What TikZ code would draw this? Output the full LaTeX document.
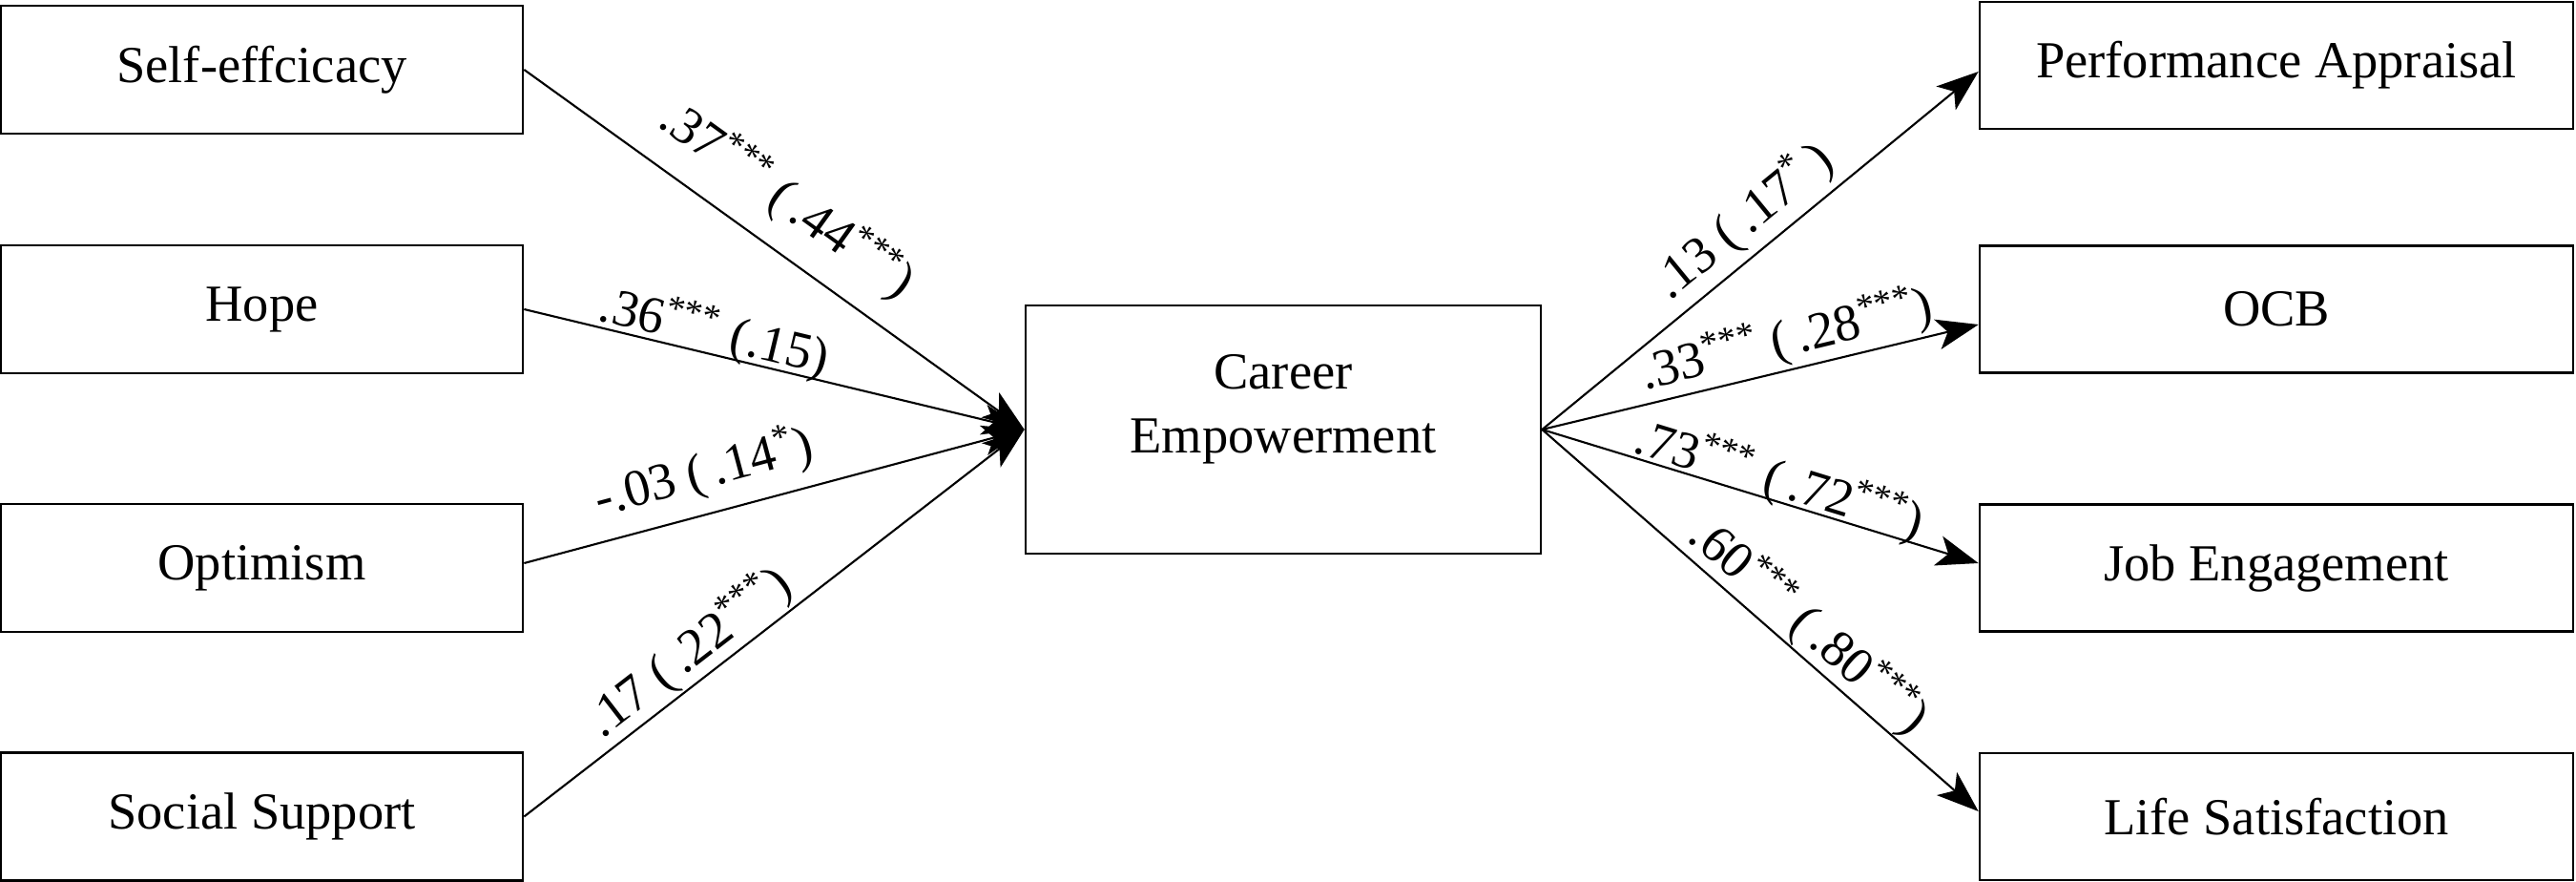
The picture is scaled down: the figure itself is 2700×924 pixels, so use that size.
\documentclass[tikz,border=0pt]{standalone}
\usepackage{fontspec}
\setmainfont{Liberation Serif}
\usetikzlibrary{arrows.meta}
\newcommand{\st}[1]{\textsuperscript{#1}}
\begin{document}
\begin{tikzpicture}[x=0.1mm,y=-0.1mm,
  box/.style={draw, line width=0.75pt, rectangle, inner sep=0pt, font=\fontsize{15.5}{19}\selectfont, align=center},
  lbox/.style={box, minimum width=54.7mm, minimum height=13.4mm},
  rbox/.style={box, minimum width=62.2mm, minimum height=13.3mm},
  link/.style={line width=0.6pt, -{Stealth[length=4.4mm,width=3.2mm,inset=1.1mm]}},
  lab/.style={sloped, anchor=center, inner sep=0pt, font=\fontsize{15.5}{18}\selectfont}]
\useasboundingbox (0,0) rectangle (2700,924);
% left boxes
\node[lbox] (se)  at (274.5,73)   {Self-effcicacy};
\node[lbox] (hp)  at (274.5,324)  {Hope};
\node[lbox] (op)  at (274.5,595)  {Optimism};
\node[lbox] (ss)  at (274.5,855.5){Social Support};
% centre
\node[box, minimum width=54mm, minimum height=26mm, text depth=5.4mm] (ce) at (1345,450) {Career\\Empowerment};
% right boxes
\node[rbox] (pa)  at (2386,68.5)  {Performance Appraisal};
\node[rbox] (ocb) at (2386,324)   {OCB};
\node[rbox] (je)  at (2386,595)   {Job Engagement};
\node[rbox] (ls)  at (2386,855.5) {Life Satisfaction};
% left links
\draw[link] (se.east) -- node[lab, pos=0.47, yshift=5mm] {.37\st{***} (\,.44\st{***})} (ce.west);
\draw[link] (hp.east) -- node[lab, pos=0.37, yshift=2.3mm] {.36\st{***} (.15)} (ce.west);
\draw[link] ([yshift=0.5mm]op.east) -- node[lab, pos=0.38, yshift=4.3mm] {-.03 (\,.14\st{*})} (ce.west);
\draw[link] (ss.east) -- node[lab, pos=0.365, yshift=3mm] {.17 (\,.22\st{***})} (ce.west);
% right links
\draw[link] (ce.east) -- node[lab, pos=0.51, yshift=3.5mm] {.13 (\,.17\st{*}\,)} ([yshift=-0.65mm]pa.west);
\draw[link] (ce.east) -- node[lab, pos=0.576, yshift=3.1mm] {.33\st{***} (\,.28\st{***})} ([yshift=-1.6mm]ocb.west);
\draw[link] (ce.east) -- node[lab, pos=0.53, yshift=2.1mm] {.73\st{***} (\,.72\st{***})} ([yshift=0.5mm]je.west);
\draw[link] (ce.east) -- node[lab, pos=0.57, yshift=2.9mm] {.60\st{***} (\,.80\st{***})} ([yshift=0.55mm]ls.west);
\end{tikzpicture}
\end{document}
